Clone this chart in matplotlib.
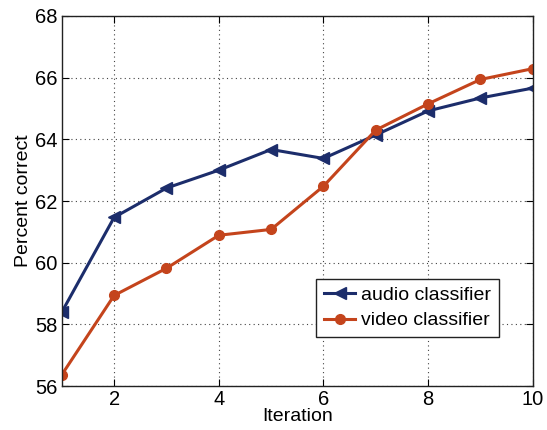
import numpy as np
import matplotlib.pyplot as plt

plt.rcParams['font.family'] = ['Liberation Sans', 'DejaVu Sans']

iteration = np.arange(1, 11)
audio_pct = [58.4, 61.47, 62.42, 63.0, 63.67, 63.38, 64.14, 64.92, 65.34, 65.66]
video_pct = [56.37, 58.94, 59.82, 60.89, 61.08, 62.48, 64.30, 65.15, 65.94, 66.29]

audio_color = '#1c2d6b'
video_color = '#c4441c'

fig = plt.figure(figsize=(5.47, 4.30), dpi=100)
ax = fig.add_axes([0.113, 0.102, 0.861, 0.861])

ax.plot(iteration, audio_pct, color=audio_color, lw=2.2, marker='<',
        markersize=8, label='audio classifier')
ax.plot(iteration, video_pct, color=video_color, lw=2.2, marker='o',
        markersize=7, label='video classifier')

ax.set_xlim(1, 10)
ax.set_ylim(56, 68)
ax.set_xticks([2, 4, 6, 8, 10])
ax.set_yticks(np.arange(56, 69, 2))
ax.tick_params(direction='in', labelsize=14.5, length=5, width=0.8, pad=3)
ax.tick_params(top=True, right=True)
for s in ax.spines.values():
    s.set_linewidth(1.0)
    s.set_color('#222222')

ax.grid(True, linestyle=(0, (1, 3)), color='#444444', linewidth=0.8)
ax.set_xlabel('Iteration', fontsize=14, labelpad=-1)
ax.set_ylabel('Percent correct', fontsize=14, labelpad=2)

leg = ax.legend(loc='lower right', bbox_to_anchor=(0.928, 0.132), fontsize=14,
                fancybox=False, framealpha=1, edgecolor='#222222',
                handlelength=1.6, handletextpad=0.3, borderpad=0.4,
                labelspacing=0.4, borderaxespad=0)
leg.get_frame().set_linewidth(1.0)

fig.savefig('out.png', dpi=100)
